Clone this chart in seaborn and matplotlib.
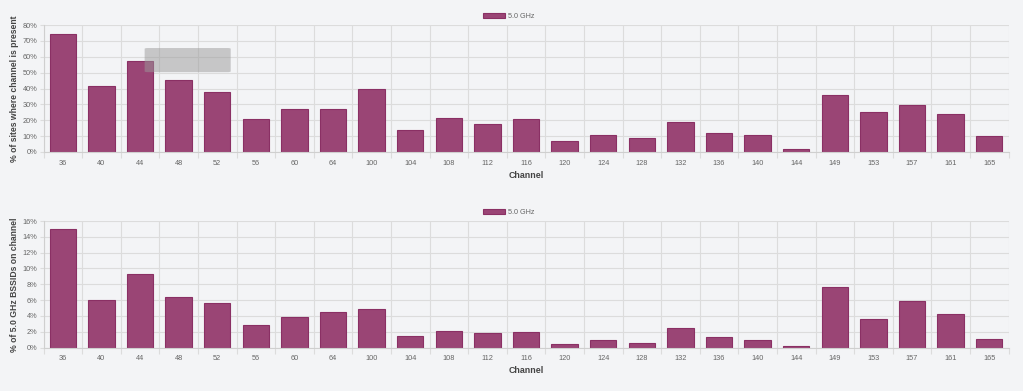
import numpy as np
import pandas as pd
import matplotlib
matplotlib.use("Agg")
import matplotlib.pyplot as plt
import seaborn as sns
from matplotlib.patches import FancyBboxPatch
from matplotlib.ticker import FixedLocator, MultipleLocator, FuncFormatter

channels = ["36", "40", "44", "48", "52", "56", "60", "64", "100", "104", "108", "112",
            "116", "120", "124", "128", "132", "136", "140", "144", "149", "153", "157",
            "161", "165"]
sites_pct = [74.5, 41.7, 57.1, 45.5, 38.1, 20.8, 26.8, 26.8, 40.0, 14.1, 21.7, 17.7,
             21.1, 7.2, 10.4, 8.7, 19.0, 12.2, 10.4, 1.7, 36.2, 24.9, 29.7, 23.8, 9.9]
bssid_pct = [15.0, 6.0, 9.3, 6.4, 5.6, 2.8, 3.8, 4.5, 4.9, 1.4, 2.1, 1.8,
             2.0, 0.5, 0.9, 0.55, 2.5, 1.3, 1.0, 0.17, 7.6, 3.6, 5.9, 4.3, 1.1]
series_name = "5.0 GHz"
ylabels = ["% of sites where channel is present", "% of 5.0 GHz BSSIDs on channel"]
xlabel = "Channel"

BG = "#f3f4f6"
FILL = "#9a4575"
EDGE = "#8a3064"
GRID = "#dcdcdc"
TXT = "#666666"

sns.set_theme(style="white")
plt.rcParams["font.family"] = ["Liberation Sans", "DejaVu Sans"]

fig = plt.figure(figsize=(10.23, 3.91), dpi=100, facecolor=BG)
W, H = 1023, 391

def make_axes(top_px, bottom_px):
    return fig.add_axes([43.5 / W, 1 - bottom_px / H, (1008.5 - 43.5) / W, (bottom_px - top_px) / H])

ax1 = make_axes(25, 152)
ax2 = make_axes(221, 347.5)

panels = [(ax1, sites_pct, 80, 10, ylabels[0]), (ax2, bssid_pct, 16, 2, ylabels[1])]
for ax, vals, ymax, step, ylab in panels:
    df = pd.DataFrame({"Channel": channels, "value": vals})
    ax.set_facecolor(BG)
    sns.barplot(data=df, x="Channel", y="value", ax=ax, color=FILL, width=0.68,
                edgecolor=EDGE, linewidth=0.8, saturation=1, label=series_name)
    n = len(channels)
    ax.set_xlim(-0.5, n - 0.5)
    ax.set_ylim(0, ymax)
    ax.yaxis.set_major_locator(MultipleLocator(step))
    ax.yaxis.set_major_formatter(FuncFormatter(lambda v, p: f"{v:.0f}%"))
    ax.xaxis.set_minor_locator(FixedLocator(np.arange(-0.5, n, 1.0)))
    ax.grid(True, which="minor", axis="x", color=GRID, linewidth=0.8)
    ax.grid(True, which="major", axis="y", color=GRID, linewidth=0.8)
    ax.set_axisbelow(True)
    ax.tick_params(axis="x", which="major", length=0, pad=5.5, labelsize=5.3, labelcolor=TXT)
    ax.tick_params(axis="x", which="minor", length=4, width=0.8, color=GRID, bottom=True)
    ax.tick_params(axis="y", which="major", length=3, width=0.8, color=GRID, left=True,
                   pad=1.2, labelsize=5.3, labelcolor=TXT)
    for s in ["top", "right"]:
        ax.spines[s].set_visible(False)
    ax.spines["left"].set_color("#cfcfcf")
    ax.spines["bottom"].set_color("#cfcfcf")
    ax.spines["left"].set_linewidth(0.8)
    ax.spines["bottom"].set_linewidth(0.8)
    ax.set_ylabel(ylab, fontsize=6.2, fontweight="bold", color="#444444", labelpad=3)
    ax.set_xlabel(xlabel, fontsize=6.4, fontweight="bold", color="#444444", labelpad=3)
    leg = ax.legend(loc="lower center", bbox_to_anchor=(0.482, 1.0), frameon=False,
                    fontsize=5.2, handlelength=3.0, handleheight=0.8, handletextpad=0.4,
                    borderaxespad=0.3, labelcolor=TXT)

# faded tooltip over the top chart (anchored near bar "44")
tip = FancyBboxPatch((2.12, 50.3), 2.23, 15.2, boxstyle="round,pad=0,rounding_size=0.08",
                     facecolor="#9a9a9a", edgecolor="none", alpha=0.5, zorder=5,
                     mutation_aspect=6)
ax1.add_patch(tip)

fig.savefig("out.png", dpi=100, facecolor=BG)
